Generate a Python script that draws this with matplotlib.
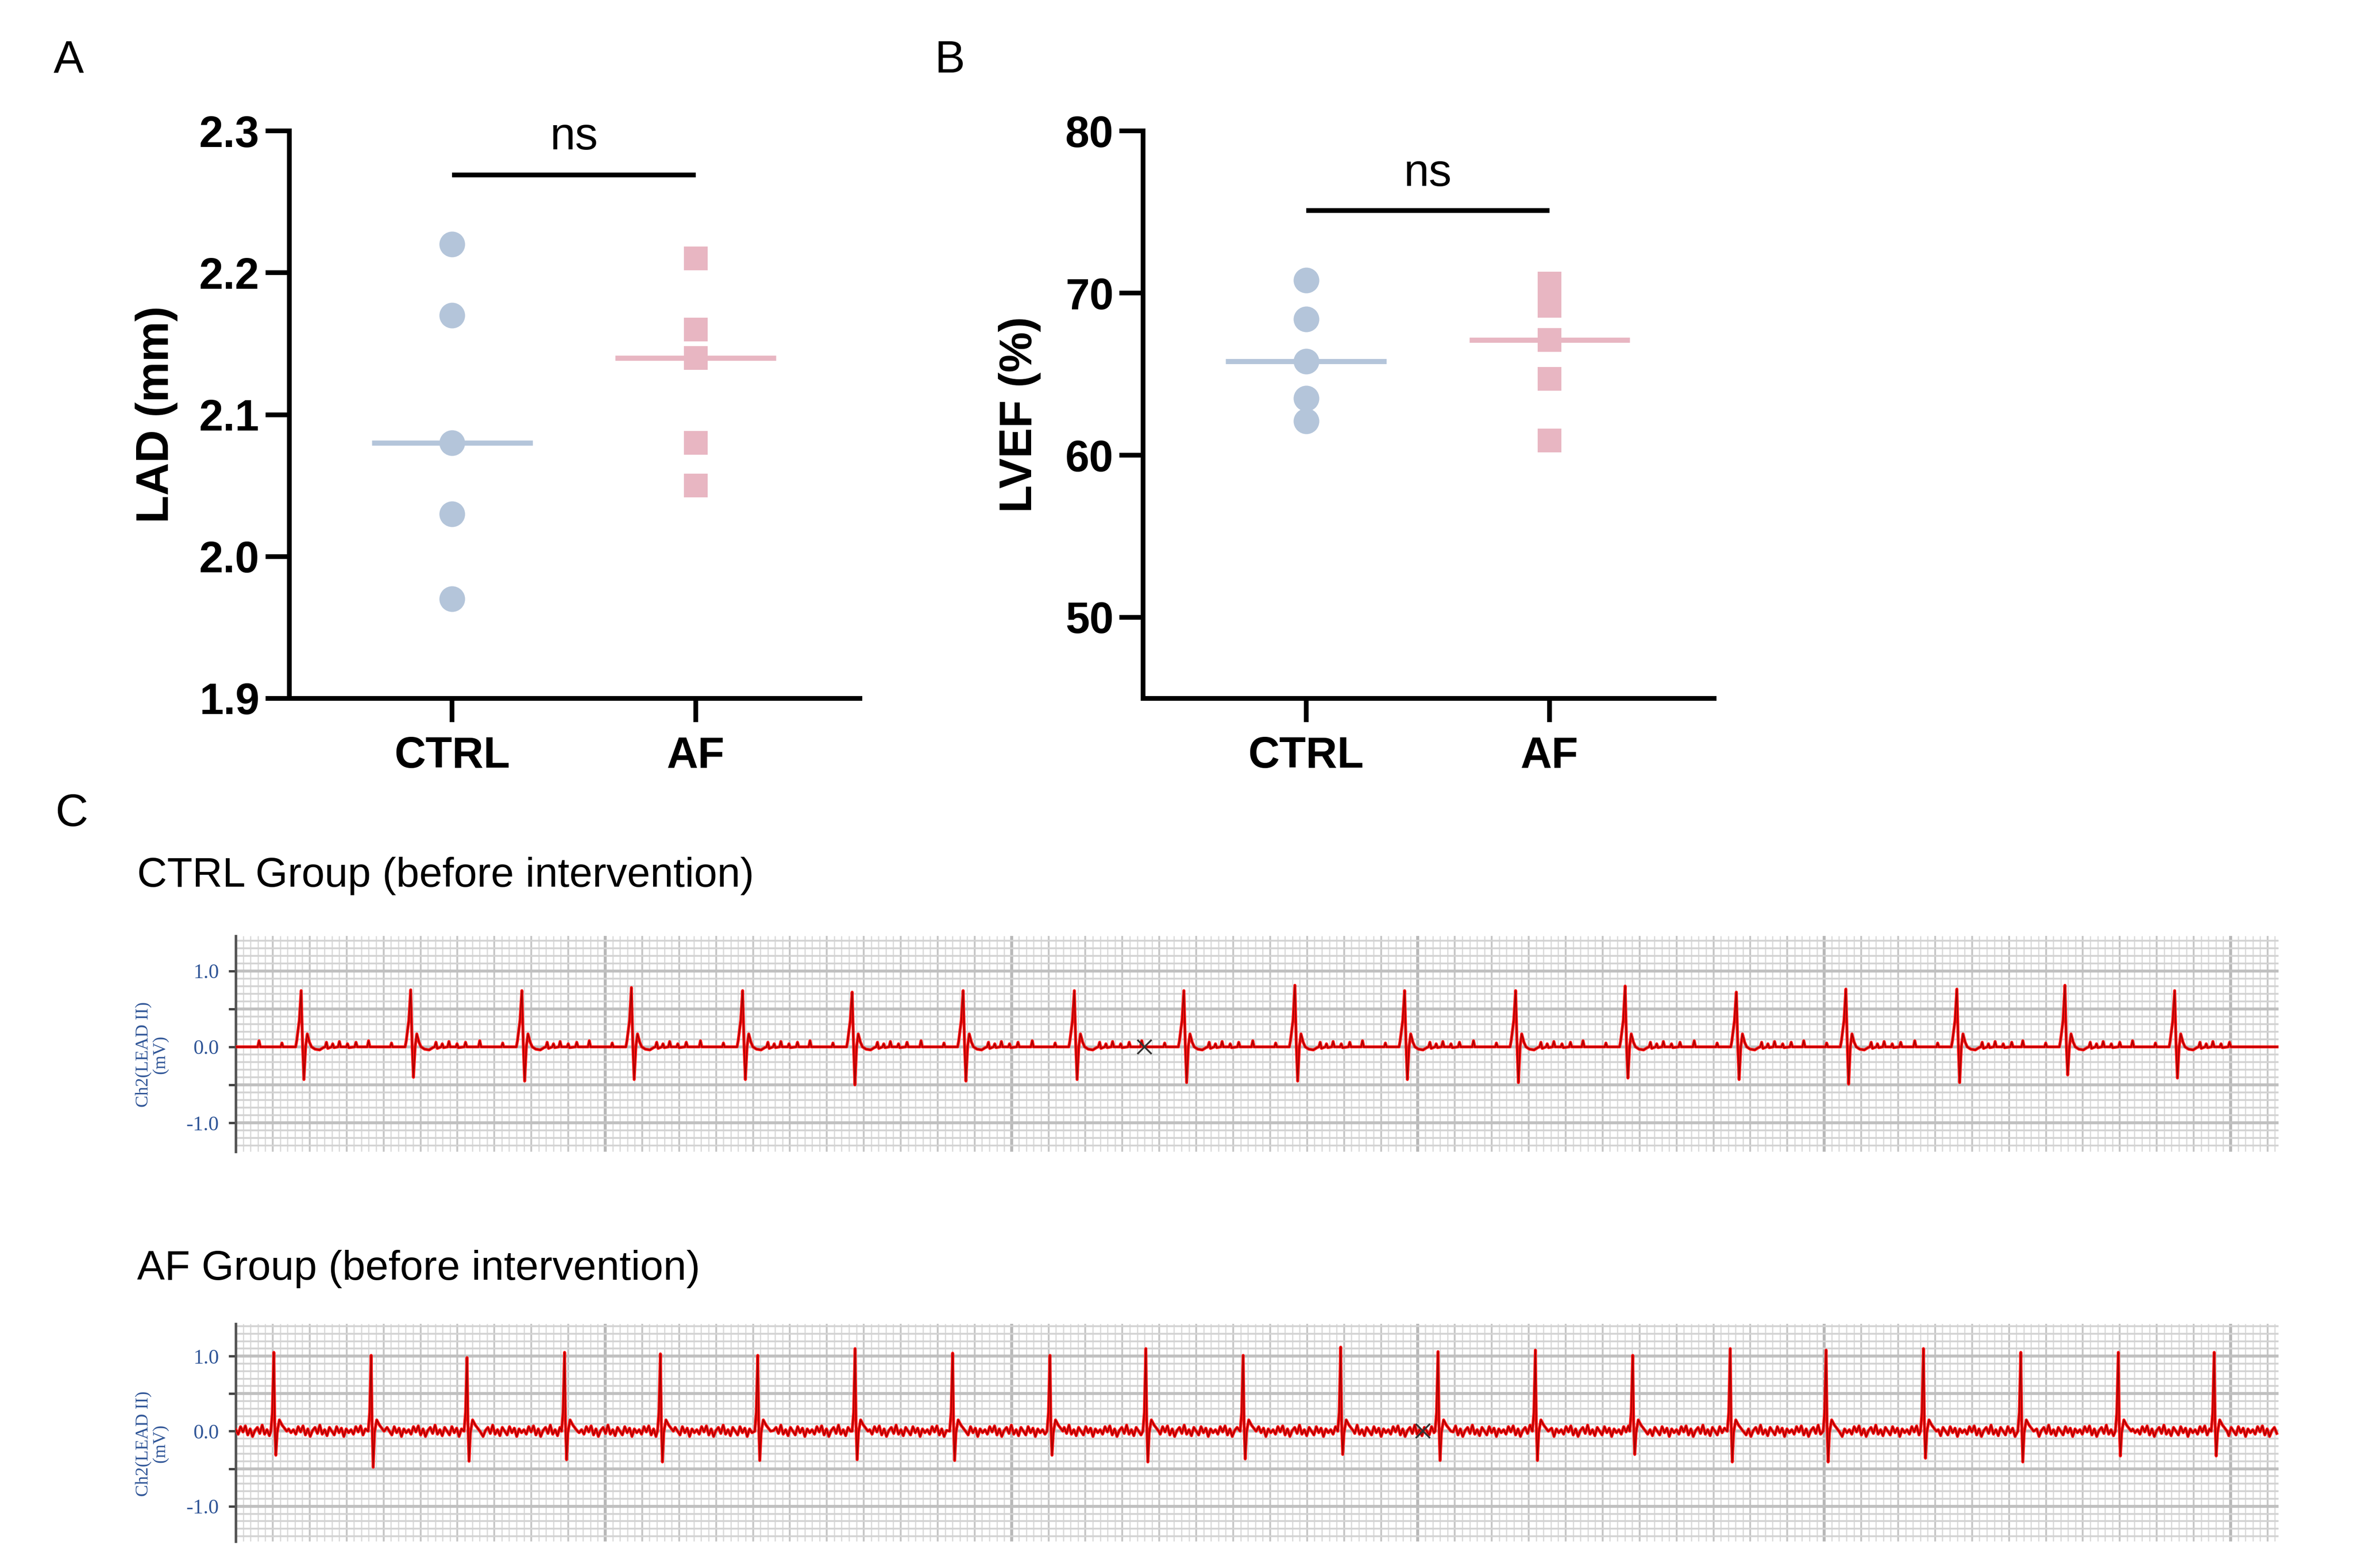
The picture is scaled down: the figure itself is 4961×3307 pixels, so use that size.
import numpy as np
import matplotlib.pyplot as plt

plt.rcParams['font.family'] = ['Liberation Sans', 'DejaVu Sans']

# ---- panel A / B : echo data ----
groups = ['CTRL', 'AF']
lad_ctrl = [2.22, 2.17, 2.08, 2.03, 1.97]
lad_af = [2.21, 2.16, 2.14, 2.08, 2.05]
lvef_ctrl = [70.8, 68.4, 65.8, 63.5, 62.1]
lvef_af = [70.6, 69.2, 67.1, 64.7, 60.9]

# ---- panel C : ECG, R-peak times (s), R height and S depth (mV) ----
ctrl_beat_t = [0.354, 0.947, 1.549, 2.142, 2.744, 3.337, 3.938, 4.540, 5.133,
               5.734, 6.328, 6.929, 7.522, 8.124, 8.717, 9.318, 9.903, 10.497]
ctrl_r = [0.74, 0.75, 0.74, 0.78, 0.74, 0.72, 0.74, 0.74, 0.74,
          0.81, 0.74, 0.74, 0.80, 0.72, 0.76, 0.76, 0.81, 0.74]
ctrl_s = [-0.43, -0.40, -0.45, -0.43, -0.43, -0.50, -0.45, -0.43, -0.47,
          -0.45, -0.43, -0.47, -0.41, -0.43, -0.49, -0.47, -0.37, -0.41]

af_beat_t = [0.206, 0.733, 1.252, 1.780, 2.299, 2.826, 3.353, 3.881, 4.408, 4.927,
             5.454, 5.982, 6.509, 7.036, 7.563, 8.091, 8.610, 9.137, 9.664, 10.192, 10.711]
af_r = [1.05, 1.01, 0.98, 1.05, 1.03, 1.01, 1.10, 1.04, 1.01, 1.10,
        1.01, 1.12, 1.06, 1.08, 1.01, 1.10, 1.08, 1.10, 1.05, 1.05, 1.05]
af_s = [-0.32, -0.48, -0.40, -0.38, -0.41, -0.39, -0.38, -0.39, -0.32, -0.41,
        -0.37, -0.31, -0.39, -0.39, -0.31, -0.41, -0.41, -0.36, -0.41, -0.33, -0.33]

# beat shapes (offset from R in s, value in mV; 'R'/'S' = per-beat value)
ctrl_tpl_dt = [-0.235, -0.228, -0.221, -0.110, -0.104, -0.098, -0.030, -0.024, -0.010, 0.0,
               0.008, 0.015, 0.024, 0.033, 0.045, 0.056, 0.075, 0.100, 0.120, 0.130,
               0.137, 0.144, 0.165, 0.171, 0.178, 0.200, 0.207, 0.214, 0.245, 0.251,
               0.258, 0.290, 0.297, 0.304]
ctrl_tpl_v = [0.0, 0.08, 0.0, 0.0, 0.05, 0.0, 0.0, 0.08, 0.35, 'R',
              0.0, 'S', 0.0, 0.17, 0.06, 0.0, -0.03, -0.04, -0.01, 0.0,
              0.06, -0.02, 0.0, 0.04, -0.01, 0.0, 0.07, 0.0, 0.0, 0.04,
              -0.01, 0.0, 0.06, 0.0]
af_tpl_dt = [-0.016, -0.008, 0.0, 0.005, 0.011, 0.018, 0.030, 0.045, 0.070]
af_tpl_v = [0.0, 0.25, 'R', 0.10, 'S', -0.02, 0.15, 0.08, 0.0]
# fibrillatory baseline pattern (mV), repeated along the AF strip
af_fwave = [0.02, -0.04, 0.06, -0.01, 0.07, -0.05, 0.03, -0.07, 0.01, 0.05, -0.03, 0.08,
            -0.04, 0.02, -0.06, 0.05, 0.0, -0.05, 0.06, -0.02, 0.04, -0.07, 0.03, -0.02]

ctrl_mark = (4.919, 0.0)
af_mark = (6.426, 0.0)

blue = '#b4c5da'
pink = '#e8b6c2'
T_END = 11.06


def build_trace(beat_t, r, s, dt, v, base=None, step=0.013, win=(-0.02, 0.075)):
    pts = []
    if base is not None:
        tt = np.arange(0, T_END, step)
        for i, t0 in enumerate(tt):
            if any(b + win[0] <= t0 <= b + win[1] for b in beat_t):
                continue
            pts.append((t0, base[i % len(base)]))
    else:
        pts += [(0.0, 0.0), (T_END, 0.0)]
    for b, rv, sv in zip(beat_t, r, s):
        for d, val in zip(dt, v):
            val = rv if val == 'R' else sv if val == 'S' else val
            pts.append((b + d, val))
    pts.sort()
    pts = np.array(pts)
    return pts[:, 0], pts[:, 1]


def dot_panel(ax, ctrl, af, ylim, yticks, ylabel, bar_y, ns_y, lab_x):
    ax.plot(np.zeros(len(ctrl)), ctrl, 'o', ms=13, color=blue, mec='none', zorder=3)
    ax.plot(np.ones(len(af)), af, 's', ms=12, color=pink, mec='none', zorder=3)
    ax.hlines(np.median(ctrl), -0.33, 0.33, color=blue, lw=2.6, zorder=2)
    ax.hlines(np.median(af), 1 - 0.33, 1 + 0.33, color=pink, lw=2.6, zorder=2)
    ax.plot([0, 1], [bar_y, bar_y], color='k', lw=2.4, solid_capstyle='butt')
    ax.text(0.5, ns_y, 'ns', ha='center', va='baseline', fontsize=23)
    ax.set_xlim(-0.669, 1.675)
    ax.set_ylim(*ylim)
    ax.set_yticks(yticks)
    ax.set_xticks([0, 1], groups)
    for sp in ['top', 'right']:
        ax.spines[sp].set_visible(False)
    for sp in ['left', 'bottom']:
        ax.spines[sp].set_linewidth(2.4)
    ax.tick_params(axis='both', length=12, width=2.4, labelsize=22)
    ax.tick_params(axis='y', pad=3)
    ax.tick_params(axis='x', pad=7)
    for lbl in ax.get_xticklabels() + ax.get_yticklabels():
        lbl.set_fontweight('bold')
    ax.set_ylabel(ylabel, fontsize=23, fontweight='bold')
    ax.yaxis.label.set_va('center')
    ax.yaxis.set_label_coords(lab_x, 0.5)


def ecg_panel(ax, t, v, ylim, mark):
    ax.set_xlim(0, T_END)
    ax.set_ylim(*ylim)
    ax.vlines(np.arange(0, T_END, 0.04), ylim[0], ylim[1], color='#d9d9d9', lw=0.6, zorder=0)
    ax.vlines(np.arange(0, T_END, 0.2), ylim[0], ylim[1], color='#c6c6c6', lw=0.9, zorder=0)
    ax.vlines([2.0, 4.2, 6.4, 8.6, 10.8], ylim[0], ylim[1], color='#b8b8b8', lw=1.5, zorder=0)
    ax.hlines(np.arange(-1.4, 1.5, 0.1), 0, T_END, color='#d3d3d3', lw=0.9, zorder=0)
    ax.hlines([-1.0, -0.5, 0.0, 0.5, 1.0], 0, T_END, color='#c0c0c0', lw=1.5, zorder=0)
    ax.plot(t, v, color='#ff1010', lw=1.5, zorder=3)
    ax.plot(t, v, color='#a00000', lw=0.5, zorder=4)
    ax.plot(*mark, marker='x', color='#333333', ms=7, mew=0.9, zorder=5)
    for sp in ['top', 'right', 'bottom']:
        ax.spines[sp].set_visible(False)
    ax.spines['left'].set_color('#555555')
    ax.spines['left'].set_linewidth(1.3)
    ax.set_xticks([])
    ax.set_yticks([-1.0, -0.5, 0.0, 0.5, 1.0], ['-1.0', '', '0.0', '', '1.0'])
    ax.tick_params(axis='y', length=3.6, width=1.2, color='#444444',
                   labelcolor='#2f5597', labelsize=10.5, pad=5)
    for lbl in ax.get_yticklabels():
        lbl.set_family('Liberation Serif')
    ax.set_ylabel('Ch2(LEAD II)\n(mV)', color='#2f5597', fontsize=9,
                  family='Liberation Serif', linespacing=1.0)
    ax.yaxis.label.set_va('center')
    ax.yaxis.set_label_coords(-0.041, 0.45)


fig = plt.figure(figsize=(4961 / 300, 3307 / 300), dpi=300)

axA = fig.add_axes([0.1229, 0.5546, 0.2426, 0.3619])
dot_panel(axA, lad_ctrl, lad_af, (1.9, 2.3), [1.9, 2.0, 2.1, 2.2, 2.3],
          'LAD (mm)', 2.269, 2.287, -0.232)
axA.yaxis.set_major_formatter(plt.FormatStrFormatter('%.1f'))

axB = fig.add_axes([0.4858, 0.5546, 0.2426, 0.3619])
dot_panel(axB, lvef_ctrl, lvef_af, (45, 80), [50, 60, 70, 80],
          'LVEF (%)', 75.1, 76.6, -0.216)

t1, v1 = build_trace(ctrl_beat_t, ctrl_r, ctrl_s, ctrl_tpl_dt, ctrl_tpl_v)
axC1 = fig.add_axes([0.1002, 0.2655, 0.8682, 0.1376])
ecg_panel(axC1, t1, v1, (-1.38, 1.46), ctrl_mark)

t2, v2 = build_trace(af_beat_t, af_r, af_s, af_tpl_dt, af_tpl_v, base=af_fwave)
axC2 = fig.add_axes([0.1002, 0.0169, 0.8682, 0.1388])
ecg_panel(axC2, t2, v2, (-1.47, 1.43), af_mark)

fig.text(0.0291, 0.9613, 'A', fontsize=23, ha='center', va='center')
fig.text(0.4036, 0.9613, 'B', fontsize=23, ha='center', va='center')
fig.text(0.0304, 0.4808, 'C', fontsize=23, ha='center', va='center')
fig.text(0.0582, 0.4412, 'CTRL Group (before intervention)', fontsize=21, ha='left', va='center')
fig.text(0.0582, 0.1908, 'AF Group (before intervention)', fontsize=21, ha='left', va='center')

fig.savefig('out.png', dpi=300)
